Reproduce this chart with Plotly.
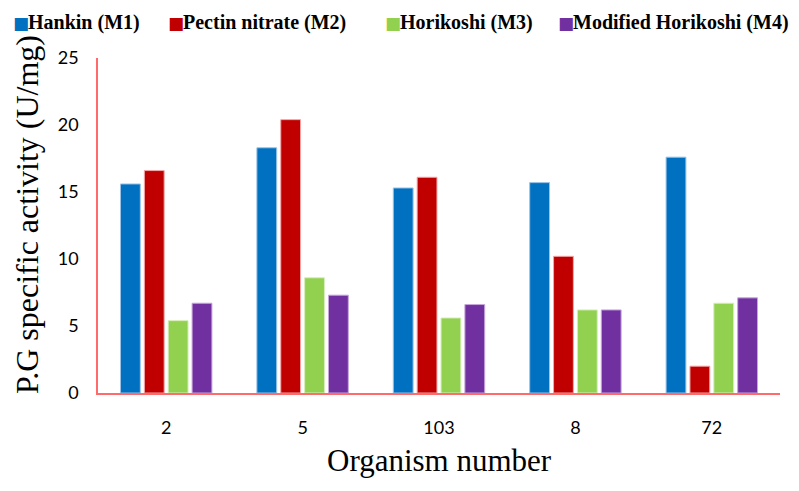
import plotly.graph_objects as go

organisms = ["2", "5", "103", "8", "72"]
series_names = ["Hankin (M1)", "Pectin nitrate (M2)", "Horikoshi (M3)", "Modified Horikoshi (M4)"]
hankin = [15.6, 18.3, 15.3, 15.7, 17.6]
pectin_nitrate = [16.6, 20.4, 16.1, 10.2, 2.0]
horikoshi = [5.4, 8.6, 5.6, 6.2, 6.7]
modified_horikoshi = [6.7, 7.3, 6.6, 6.2, 7.1]
colors = ["#0070C0", "#C00000", "#92D050", "#7030A0"]
line_colors = ["#9CC3E6", "#F4A6A6", "#D6EEB9", "#C6A6DB"]

fig = go.Figure()
for name, vals, c, lc in zip(series_names,
                             [hankin, pectin_nitrate, horikoshi, modified_horikoshi],
                             colors, line_colors):
    fig.add_trace(go.Bar(x=organisms, y=vals, name=name,
                         marker=dict(color=c, line=dict(color=lc, width=1))))

# the page body has an 8px default margin, so the figure is drawn 8px in from the window corner
OFF = 8
W, H = 799 - OFF, 491 - OFF
L, R, T, B = 98 - OFF, 19, 58 - OFF, 98
pw, ph = W - L - R, H - T - B

def px_x(p):  # window pixel -> paper x
    return (p - OFF - L) / pw

def px_y(p):  # window pixel -> paper y
    return (H - B - (p - OFF)) / ph

SERIF = "Liberation Serif"
annotations = []
# custom one-line legend: coloured square + bold serif label per series
legend_sq_x = [15, 170, 387, 560]
for name, c, x0 in zip(series_names, colors, legend_sq_x):
    annotations.append(dict(text="■", xref="paper", yref="paper", x=px_x(x0 - 4), y=px_y(23),
                            xanchor="left", yanchor="middle", showarrow=False,
                            font=dict(family="DejaVu Sans", size=17, color=c)))
    annotations.append(dict(text=f"<b>{name}</b>", xref="paper", yref="paper",
                            x=px_x(x0 + 11), y=px_y(23), xanchor="left", yanchor="middle",
                            showarrow=False,
                            font=dict(family=SERIF, size=20, color="black")))

annotations += [
    dict(text="P.G specific activity (U/mg)", xref="paper", yref="paper",
         x=px_x(27), y=px_y(215), xanchor="center", yanchor="middle",
         textangle=-90, showarrow=False,
         font=dict(family=SERIF, size=32, color="black")),
    dict(text="Organism number", xref="paper", yref="paper",
         x=px_x(439), y=px_y(461), xanchor="center", yanchor="middle",
         showarrow=False,
         font=dict(family=SERIF, size=31, color="black")),
]

fig.update_layout(
    width=W, height=H,
    paper_bgcolor="white", plot_bgcolor="white",
    margin=dict(l=L, r=R, t=T, b=B),
    barmode="group", bargap=0.3, bargroupgap=0.17,
    showlegend=False,
    xaxis=dict(showline=True, linecolor="#FF6B6B", linewidth=1.5, showgrid=False,
               ticks="", ticklabelstandoff=18,
               tickfont=dict(family="Lato", size=18, color="black")),
    yaxis=dict(range=[0, 25], dtick=5, showline=True, linecolor="#FF6B6B", linewidth=1.5,
               showgrid=False, ticks="", zeroline=False, ticklabelstandoff=14,
               tickfont=dict(family="Lato", size=18, color="black")),
    annotations=annotations,
)

fig.write_html("out.html")
